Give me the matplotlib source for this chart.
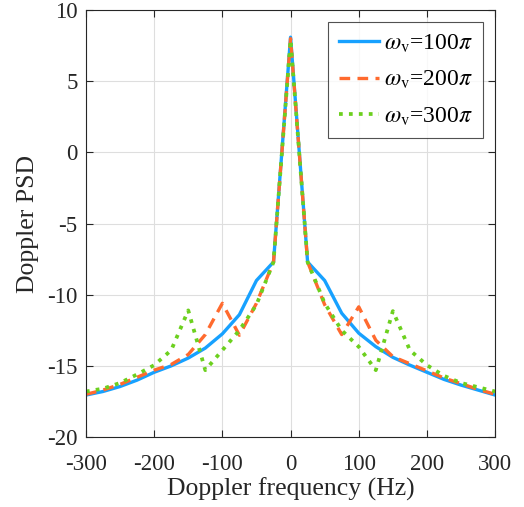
import matplotlib
matplotlib.use('Agg')
import matplotlib.pyplot as plt
import numpy as np

# Doppler frequency grid (Hz), 25 Hz step
freq = np.arange(-300, 301, 25)

# Doppler PSD
psd_100 = [-17.05, -16.8, -16.45, -16.0, -15.45, -15.0, -14.45, -13.75, -12.75, -11.4, -9.0, -7.7,
           8.1,
           -7.7, -9.0, -11.3, -12.7, -13.65, -14.4, -14.95, -15.45, -15.95, -16.35, -16.7, -17.05]
psd_200 = [-17.0, -16.7, -16.3, -15.8, -15.3, -14.9, -14.2, -12.8, -10.6, -12.85, -10.6, -7.7,
           8.0,
           -7.7, -10.7, -12.8, -10.85, -13.2, -14.35, -14.85, -15.35, -15.85, -16.25, -16.65, -17.0]
psd_300 = [-16.8, -16.6, -16.2, -15.6, -14.95, -13.9, -11.1, -15.3, -13.9, -12.5, -10.7, -7.7,
           7.9,
           -7.7, -10.6, -12.5, -13.66, -15.3, -11.15, -13.9, -14.95, -15.7, -16.2, -16.5, -16.8]

labels = [r'$\omega_{\mathrm{v}}$=100$\pi$', r'$\omega_{\mathrm{v}}$=200$\pi$', r'$\omega_{\mathrm{v}}$=300$\pi$']

plt.rcParams['font.family'] = ['Liberation Serif', 'DejaVu Serif']
plt.rcParams['mathtext.fontset'] = 'stix'
plt.rcParams['axes.unicode_minus'] = False

fig = plt.figure(figsize=(5.24, 5.07), dpi=100)
ax = fig.add_axes([0.164, 0.138, 0.781, 0.842])

ax.plot(freq, psd_100, '-', color='#17A1FF', lw=2.4, label=labels[0])
ax.plot(freq, psd_200, '--', color='#FF6A2E', lw=2.4, dashes=(3.2, 2.2), label=labels[1])
ax.plot(freq, psd_300, ':', color='#6CD01E', lw=2.7, label=labels[2])

ax.set_xlim(-300, 300)
ax.set_ylim(-20, 10)
ax.set_xticks(np.arange(-300, 301, 100))
ax.set_yticks(np.arange(-20, 11, 5))
ax.grid(True, color='#DEDEDE', lw=0.8)
ax.set_axisbelow(True)
ax.tick_params(direction='in', top=True, right=True, length=5, width=0.8,
               labelsize=16.5, colors='#262626')
ax.tick_params(axis='x', pad=12)
ax.tick_params(axis='y', pad=6)
for s in ax.spines.values():
    s.set_color('#262626')
    s.set_linewidth(0.8)

ax.set_xlabel('Doppler frequency (Hz)', fontsize=18.5, color='#262626', labelpad=2)
ax.set_ylabel('Doppler PSD', fontsize=18.5, color='#262626', labelpad=6)

leg = ax.legend(loc='upper right', fontsize=17, handlelength=1.7, frameon=True,
                fancybox=False, borderaxespad=0.5, handletextpad=0.2, labelspacing=0.6,
                borderpad=0.45)
leg.get_frame().set_edgecolor('#262626')
leg.get_frame().set_linewidth(0.8)

fig.savefig('out.png', dpi=100)
